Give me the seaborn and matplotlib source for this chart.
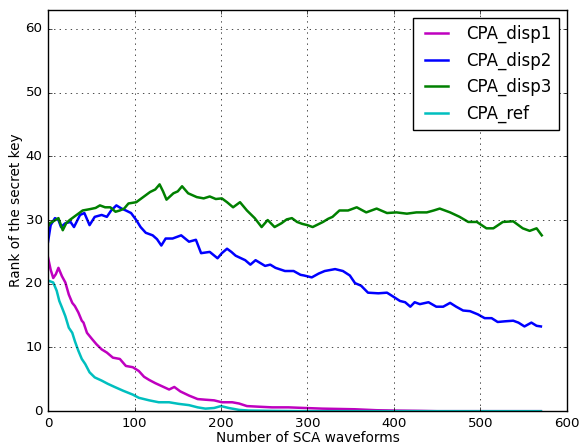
import matplotlib
matplotlib.use("Agg")
import matplotlib.pyplot as plt
import seaborn as sns

# ---- data ----
disp1_x = [0, 3, 6, 9, 12, 16, 20, 24, 28, 31, 35, 39, 41, 45, 51, 56, 62, 68, 75, 83, 90, 98,
           105, 111, 117, 124, 132, 140, 146, 153, 163, 173, 182, 192, 201, 213, 221, 230, 244,
           259, 278, 297, 317, 336, 355, 380, 400, 430, 450, 570]
disp1_y = [24.1, 22.2, 20.9, 21.5, 22.5, 21.2, 20.2, 18.3, 17.0, 16.5, 15.5, 14.2, 13.9, 12.3,
           11.3, 10.5, 9.7, 9.2, 8.4, 8.2, 7.1, 6.9, 6.3, 5.4, 4.9, 4.4, 3.9, 3.4, 3.8, 3.1, 2.45,
           1.9, 1.8, 1.7, 1.4, 1.4, 1.2, 0.8, 0.7, 0.6, 0.6, 0.5, 0.4, 0.35, 0.3, 0.15, 0.1, 0.05,
           0.0, 0.0]

disp2_x = [0, 3, 8, 12, 15, 20, 26, 30, 37, 42, 48, 54, 62, 68, 73, 79, 85, 90, 96, 102, 107,
           113, 121, 126, 131, 136, 144, 154, 163, 171, 177, 187, 196, 201, 207, 212, 217, 228,
           234, 240, 251, 257, 263, 274, 284, 292, 296, 305, 313, 320, 332, 341, 349, 355, 362,
           370, 382, 392, 399, 407, 413, 419, 424, 430, 440, 449, 457, 465, 472, 480, 488, 497,
           505, 513, 520, 528, 538, 544, 551, 559, 565, 570]
disp2_y = [26.6, 29.2, 30.3, 30.0, 28.9, 29.5, 29.7, 28.9, 30.8, 31.1, 29.2, 30.5, 30.8, 30.5,
           31.5, 32.3, 31.8, 31.5, 31.1, 30.0, 28.9, 28.0, 27.6, 27.0, 26.0, 27.1, 27.1, 27.6,
           26.6, 26.9, 24.8, 25.0, 24.0, 24.8, 25.5, 25.0, 24.4, 23.7, 23.0, 23.7, 22.8, 23.0,
           22.5, 22.0, 22.0, 21.4, 21.3, 21.0, 21.6, 22.0, 22.3, 22.0, 21.3, 20.1, 19.7, 18.6,
           18.5, 18.6, 18.0, 17.3, 17.1, 16.4, 17.1, 16.8, 17.1, 16.4, 16.4, 17.0, 16.4, 15.8,
           15.7, 15.2, 14.6, 14.6, 14.0, 14.1, 14.2, 13.9, 13.3, 13.9, 13.4, 13.3]

disp3_x = [0, 2, 6, 12, 17, 21, 25, 33, 40, 48, 55, 60, 66, 72, 78, 83, 88, 93, 102, 110, 118,
           124, 129, 133, 137, 145, 150, 155, 162, 172, 180, 187, 194, 201, 207, 214, 222, 230,
           239, 247, 254, 262, 270, 276, 282, 288, 294, 300, 306, 312, 318, 324, 329, 337, 347,
           357, 368, 380, 392, 403, 415, 426, 438, 446, 453, 465, 476, 486, 496, 507, 515, 526,
           538, 549, 557, 565, 571]
disp3_y = [29.0, 29.5, 29.8, 30.3, 28.4, 29.5, 30.0, 30.8, 31.5, 31.7, 31.9, 32.3, 32.0, 32.0,
           31.3, 31.5, 31.8, 32.6, 32.8, 33.6, 34.4, 34.8, 35.6, 34.5, 33.2, 34.2, 34.5, 35.3,
           34.2, 33.6, 33.4, 33.7, 33.3, 33.4, 32.8, 32.0, 32.8, 31.5, 30.3, 28.9, 30.0, 28.9,
           29.5, 30.1, 30.3, 29.7, 29.4, 29.2, 28.9, 29.3, 29.7, 30.2, 30.5, 31.5, 31.5, 32.0,
           31.2, 31.8, 31.1, 31.2, 31.0, 31.2, 31.2, 31.5, 31.8, 31.2, 30.5, 29.7, 29.7, 28.7,
           28.7, 29.7, 29.8, 28.7, 28.3, 28.7, 27.6]

ref_x = [0, 6, 10, 13, 16, 20, 24, 28, 31, 35, 39, 43, 48, 54, 62, 69, 77, 87, 98, 105, 117,
         128, 140, 151, 163, 173, 182, 192, 200, 209, 221, 232, 260, 300, 570]
ref_y = [20.5, 20.2, 18.9, 17.3, 16.3, 14.9, 13.1, 12.3, 11.0, 9.5, 8.2, 7.4, 6.1, 5.3, 4.8,
         4.3, 3.8, 3.2, 2.6, 2.1, 1.7, 1.4, 1.4, 1.15, 0.95, 0.6, 0.4, 0.5, 0.8, 0.5, 0.2, 0.1,
         0.05, 0.0, 0.0]

series = [
    ("CPA_disp1", disp1_x, disp1_y, "m"),
    ("CPA_disp2", disp2_x, disp2_y, "b"),
    ("CPA_disp3", disp3_x, disp3_y, "g"),
    ("CPA_ref", ref_x, ref_y, "c"),
]

plt.style.use("classic")
plt.rcParams["font.size"] = 9.6
plt.rcParams["xtick.labelsize"] = 9.6
plt.rcParams["ytick.labelsize"] = 9.6
plt.rcParams["axes.labelsize"] = 9.8
plt.rcParams["legend.fontsize"] = 12
plt.rcParams["xtick.major.size"] = 3.2
plt.rcParams["ytick.major.size"] = 3.2

fig = plt.figure(figsize=(5.79, 4.45), dpi=100, facecolor="white")
ax = fig.add_axes([0.083, 0.076, 0.896, 0.902])

for name, xs, ys, col in series:
    sns.lineplot(x=xs, y=ys, color=col, linewidth=1.8, label=name, ax=ax,
                 estimator=None, sort=False)

ax.set_xlim(0, 600)
ax.set_ylim(0, 63)
ax.set_xticks(range(0, 601, 100))
ax.set_yticks(range(0, 61, 10))
ax.grid(True, linestyle=":", color="black", linewidth=0.5)
ax.set_xlabel("Number of SCA waveforms", labelpad=1)
ax.set_ylabel("Rank of the secret key", labelpad=2)
ax.legend(loc="upper right")

fig.savefig("out.png", dpi=100, facecolor="white")
